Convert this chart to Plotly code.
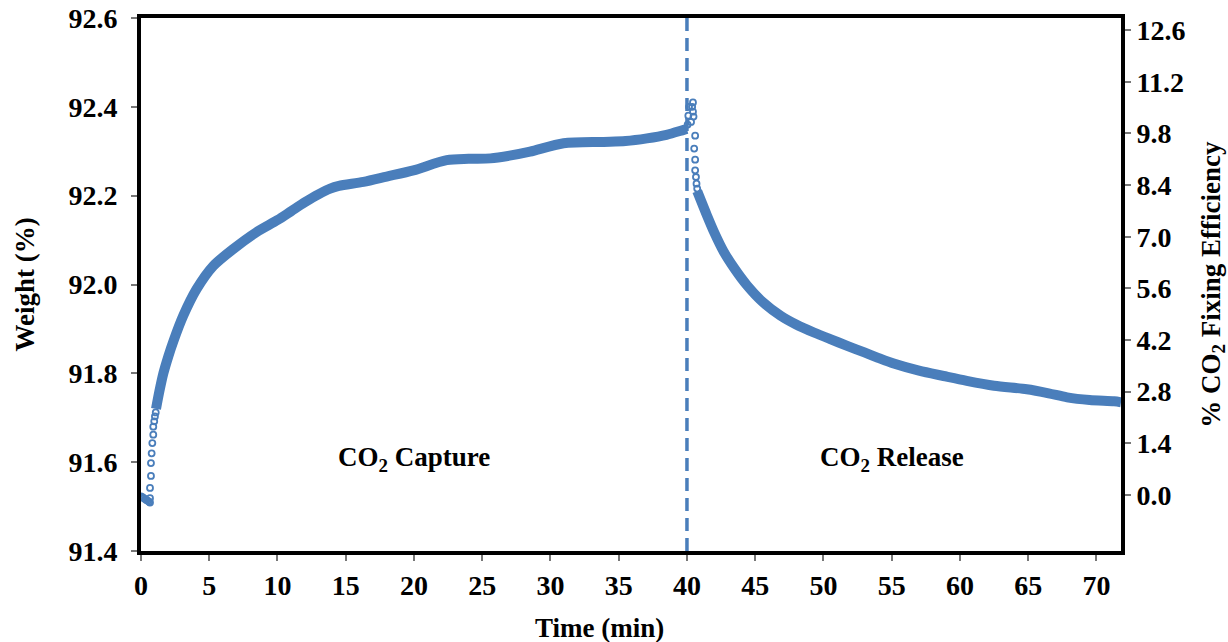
import plotly.graph_objects as go

BLUE = "#4A7EBB"
FONT = "Liberation Serif"

# Sparse (individually visible) points at the start of capture
cap_sparse_t = [0.0, 0.1, 0.2, 0.3, 0.4, 0.5, 0.6, 0.66, 0.66, 0.66, 0.73, 0.73, 0.78, 0.83, 0.9, 0.9, 0.97, 1.02, 1.08]
cap_sparse_w = [91.523, 91.521, 91.519, 91.517, 91.515, 91.513, 91.511, 91.509, 91.519, 91.542, 91.569, 91.598, 91.62, 91.643, 91.662, 91.68, 91.692, 91.703, 91.712]

# Dense capture curve
cap_t = [1.1, 1.35, 1.64, 2.0, 2.37, 3.1, 4.08, 5.3, 6.76, 8.47, 10.0, 11.0, 12.0, 13.0, 13.86, 14.5, 16.3, 18.0, 19.96, 22.4, 24.0, 25.6, 27.0, 28.5, 30.96, 33.9, 35.5, 37.07, 38.5, 39.76, 40.0]
cap_w = [91.72, 91.76, 91.80, 91.838, 91.872, 91.93, 91.99, 92.042, 92.08, 92.118, 92.145, 92.165, 92.185, 92.203, 92.216, 92.222, 92.231, 92.243, 92.257, 92.28, 92.283, 92.284, 92.29, 92.299, 92.318, 92.321, 92.323, 92.329, 92.337, 92.348, 92.35]

# Sparse points just after switching to release
rel_sparse_t = [40.05, 40.1, 40.15, 40.3, 40.38, 40.44, 40.44, 40.48, 40.53, 40.6, 40.6, 40.6, 40.66, 40.7, 40.75]
rel_sparse_w = [92.36, 92.38, 92.4, 92.366, 92.4, 92.41, 92.389, 92.378, 92.306, 92.335, 92.281, 92.257, 92.242, 92.227, 92.216]

# Dense release curve
rel_t = [40.75, 41.47, 42.0, 42.69, 43.5, 44.4, 45.5, 46.85, 48.0, 49.3, 50.5, 51.74, 53.0, 54.0, 55.15, 57.0, 58.8, 60.5, 62.5, 64.9, 66.5, 67.85, 69.5, 71.3, 71.8]
rel_w = [92.21, 92.155, 92.117, 92.074, 92.035, 91.998, 91.962, 91.93, 91.91, 91.892, 91.877, 91.862, 91.847, 91.835, 91.822, 91.806, 91.794, 91.783, 91.772, 91.764, 91.755, 91.746, 91.74, 91.737, 91.735]

x_ticks = [0, 5, 10, 15, 20, 25, 30, 35, 40, 45, 50, 55, 60, 65, 70]
y_ticks = [91.4, 91.6, 91.8, 92.0, 92.2, 92.4, 92.6]
eff_ticks = [0.0, 1.4, 2.8, 4.2, 5.6, 7.0, 8.4, 9.8, 11.2, 12.6]

switch_time = 40

fig = go.Figure()
fig.add_trace(go.Scatter(x=cap_t, y=cap_w, mode="lines", line=dict(color=BLUE, width=10, shape="spline", smoothing=0.8), hoverinfo="skip"))
fig.add_trace(go.Scatter(x=rel_t, y=rel_w, mode="lines", line=dict(color=BLUE, width=10, shape="spline", smoothing=0.8), hoverinfo="skip"))
fig.add_trace(go.Scatter(x=cap_sparse_t, y=cap_sparse_w, mode="markers",
                         marker=dict(symbol="circle-open", size=6, color=BLUE, line=dict(width=1.8)), hoverinfo="skip"))
fig.add_trace(go.Scatter(x=rel_sparse_t, y=rel_sparse_w, mode="markers",
                         marker=dict(symbol="circle-open", size=6, color=BLUE, line=dict(width=1.8)), hoverinfo="skip"))
# invisible trace to anchor the right axis
fig.add_trace(go.Scatter(x=[0], y=[0], yaxis="y2", mode="markers", marker=dict(opacity=0), hoverinfo="skip"))

fig.add_shape(type="line", xref="x", yref="paper", x0=switch_time, x1=switch_time, y0=0, y1=1,
              line=dict(color=BLUE, width=3.5, dash="13px,7px"))

tickfont = dict(family=FONT, size=28, color="black", weight="bold")

fig.update_layout(
    width=1228, height=642,
    margin=dict(l=141, r=107, t=18, b=91, autoexpand=False),
    paper_bgcolor="white", plot_bgcolor="white",
    showlegend=False,
    font=dict(family=FONT, color="black"),
    xaxis=dict(range=[0, 71.8], tickvals=x_ticks, showgrid=False, zeroline=False, automargin=False,
               showline=True, linecolor="black", linewidth=4, mirror=True,
               ticks="outside", ticklen=6, tickwidth=1.5, tickcolor="#777",
               tickfont=tickfont, ticklabelstandoff=0),
    yaxis=dict(range=[91.4, 92.6], tickvals=y_ticks, tickformat=".1f", showgrid=False, zeroline=False, automargin=False,
               showline=True, linecolor="black", linewidth=4,
               ticks="outside", ticklen=6, tickwidth=1.5, tickcolor="#777",
               tickfont=tickfont, ticklabelstandoff=8),
    yaxis2=dict(range=[-1.52, 12.93], tickvals=eff_ticks, tickformat=".1f", overlaying="y", side="right", automargin=False,
                showgrid=False, zeroline=False, showline=True, linecolor="black", linewidth=4,
                ticks="outside", ticklen=6, tickwidth=1.5, tickcolor="#777",
                tickfont=tickfont, ticklabelstandoff=0),
)

textfont = dict(family=FONT, size=27, color="black", weight="bold")
fig.add_annotation(x=20, y=91.608, xref="x", yref="y", text="CO<sub>2</sub> Capture", showarrow=False, font=textfont)
fig.add_annotation(x=55, y=91.608, xref="x", yref="y", text="CO<sub>2</sub> Release", showarrow=False, font=textfont)
fig.add_annotation(x=0.468, y=-0.1445, xref="paper", yref="paper", text="Time (min)", showarrow=False,
                   font=textfont, xanchor="center", yanchor="middle")
fig.add_annotation(x=-0.1184, y=0.5, xref="paper", yref="paper", text="Weight (%)", showarrow=False,
                   font=textfont, textangle=-90, xanchor="center", yanchor="middle")
fig.add_annotation(x=1.093, y=0.5, xref="paper", yref="paper", text="% CO<sub>2</sub> Fixing Efficiency", showarrow=False,
                   font=textfont, textangle=-90, xanchor="center", yanchor="middle")

fig.write_html("out.html")
